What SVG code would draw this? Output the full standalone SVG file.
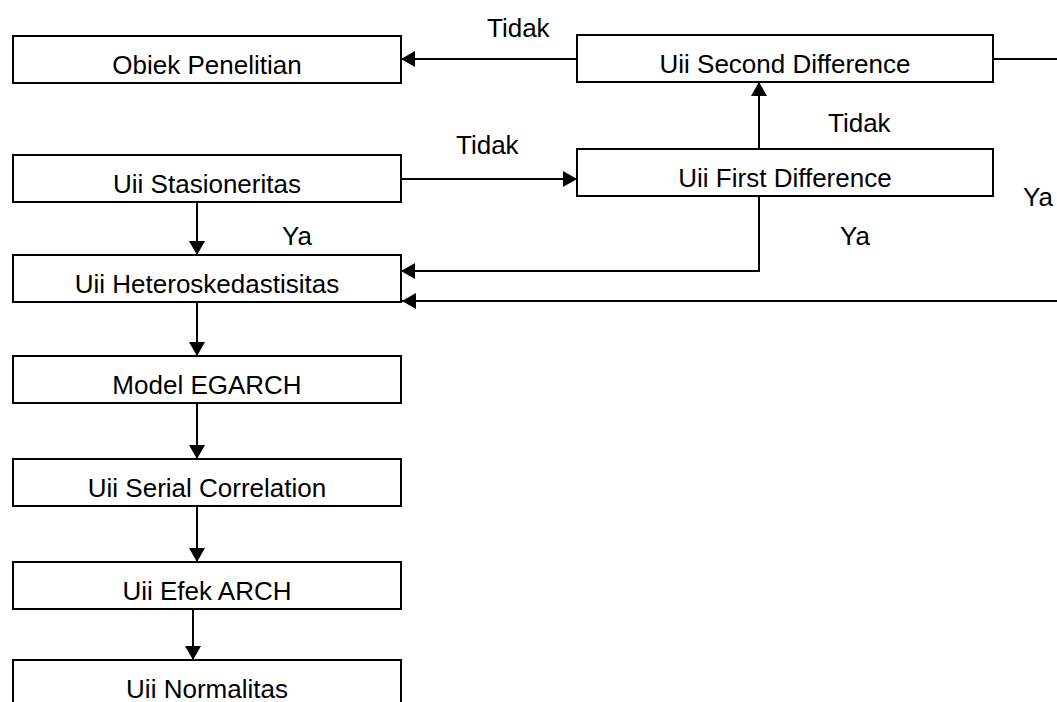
<svg xmlns="http://www.w3.org/2000/svg" width="1057" height="702" viewBox="0 0 1057 702">
<style>
.box{fill:#fff;stroke:#000;stroke-width:2}
.t{font-family:"Liberation Sans",Arial,sans-serif;font-size:26px;fill:#000}
.c{text-anchor:middle}
.ln{fill:none;stroke:#000;stroke-width:2}
.a{marker-end:url(#ah)}
</style>
<defs>
<marker id="ah" markerUnits="userSpaceOnUse" markerWidth="14" markerHeight="16" refX="14" refY="8" orient="auto">
<path d="M0,0 L14,8 L0,16 z" fill="#000"/>
</marker>
</defs>
<rect width="1057" height="702" fill="#fff"/>
<g id="connectors">
<path class="ln a" d="M197 202 V255"/>
<path class="ln a" d="M197 302 V356"/>
<path class="ln a" d="M197 403 V459"/>
<path class="ln a" d="M197 506 V562"/>
<path class="ln a" d="M193 609 V660"/>
<path class="ln a" d="M577 59 H401"/>
<path class="ln" d="M993 59 H1057"/>
<path class="ln a" d="M401 179 H577"/>
<path class="ln a" d="M759 149 V82"/>
<path class="ln a" d="M759 196 V271 H401"/>
<path class="ln a" d="M1057 301 H402"/>
<text class="t" x="487" y="37">Tidak</text>
<text class="t" x="456" y="154">Tidak</text>
<text class="t" x="828" y="132">Tidak</text>
<text class="t" x="282" y="245">Ya</text>
<text class="t" x="840" y="245">Ya</text>
<text class="t" x="1023" y="206">Ya</text>
</g>
<g id="obiek"><rect class="box" x="13" y="36" width="388" height="47"/><text class="t c" x="207" y="74">Obiek Penelitian</text></g>
<g id="second"><rect class="box" x="577" y="35" width="416" height="47"/><text class="t c" x="785" y="73">Uii Second Difference</text></g>
<g id="stasioneritas"><rect class="box" x="13" y="155" width="388" height="47"/><text class="t c" x="207" y="193">Uii Stasioneritas</text></g>
<g id="first"><rect class="box" x="577" y="149" width="416" height="47"/><text class="t c" x="785" y="187">Uii First Difference</text></g>
<g id="hetero"><rect class="box" x="13" y="255" width="388" height="47"/><text class="t c" x="207" y="293">Uii Heteroskedastisitas</text></g>
<g id="egarch"><rect class="box" x="13" y="356" width="388" height="47"/><text class="t c" x="207" y="394">Model EGARCH</text></g>
<g id="serial"><rect class="box" x="13" y="459" width="388" height="47"/><text class="t c" x="207" y="497">Uii Serial Correlation</text></g>
<g id="arch"><rect class="box" x="13" y="562" width="388" height="47"/><text class="t c" x="207" y="600">Uii Efek ARCH</text></g>
<g id="normalitas"><rect class="box" x="13" y="660" width="388" height="47"/><text class="t c" x="207" y="698">Uii Normalitas</text></g>
</svg>
